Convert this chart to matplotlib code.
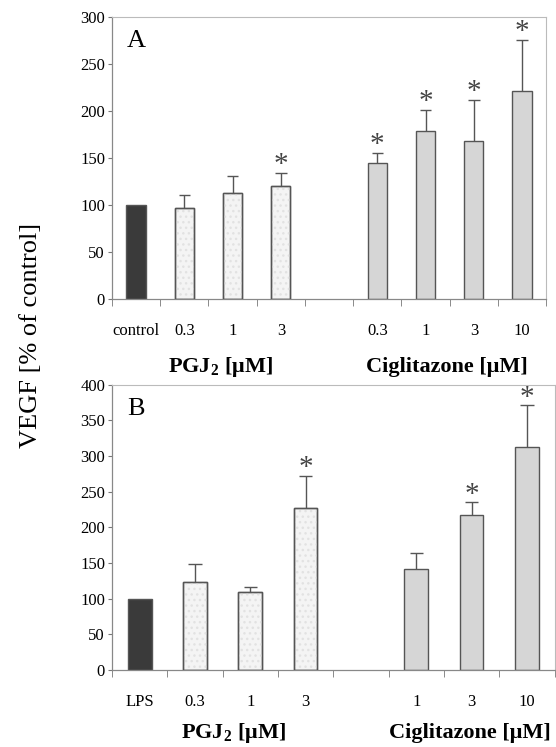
import matplotlib
matplotlib.use("Agg")
import matplotlib.pyplot as plt

plt.rcParams["font.family"] = "Liberation Serif"
plt.rcParams["mathtext.fontset"] = "custom"
plt.rcParams["mathtext.rm"] = "Liberation Serif"
plt.rcParams["mathtext.bf"] = "Liberation Serif:bold"

# Panel A
etiquetas_a = ["control", "0.3", "1", "3", "", "0.3", "1", "3", "10"]
valores_a = [100, 97, 113, 120, 0, 145, 179, 168, 221]
errores_a = [0, 14, 18, 14, 0, 10, 22, 44, 55]
grupos_a = ["ctrl", "pgj", "pgj", "pgj", "gap", "cig", "cig", "cig", "cig"]
asterisco_a = [False, False, False, True, False, True, True, True, True]

# Panel B
etiquetas_b = ["LPS", "0.3", "1", "3", "", "1", "3", "10"]
valores_b = [100, 124, 109, 227, 0, 141, 218, 312]
errores_b = [0, 24, 7, 45, 0, 23, 17, 59]
grupos_b = ["ctrl", "pgj", "pgj", "pgj", "gap", "cig", "cig", "cig"]
asterisco_b = [False, False, False, True, False, False, True, True]

colores = {"ctrl": "#3a3a3a", "pgj": "#f4f4f4", "cig": "#d6d6d6", "gap": "none"}
borde = "#555555"


def panel(ax, etiquetas, valores, errores, grupos, asteriscos, ymax, letra, ancho):
    x = list(range(len(etiquetas)))
    for xi, v, g in zip(x, valores, grupos):
        if g == "gap":
            continue
        ax.bar(xi, v, width=ancho, color=colores[g], edgecolor=borde, linewidth=1.0, zorder=2)
        if g == "pgj":
            # punteado suave
            ax.bar(xi, v, width=ancho, color="none", edgecolor="#e2e2e2", hatch="...",
                   linewidth=0, zorder=2)
            ax.bar(xi, v, width=ancho, color="none", edgecolor=borde, linewidth=1.0, zorder=3)
    for xi, v, e, s in zip(x, valores, errores, asteriscos):
        if e > 0:
            ax.vlines(xi, v, v + e, color=borde, lw=1.0, zorder=1)
            ax.hlines(v + e, xi - 0.12, xi + 0.12, color=borde, lw=1.0, zorder=1)
        if s:
            ax.text(xi, v + e - ymax * 0.018, "*", ha="center", va="bottom", fontsize=21,
                    color="#444444")
    ax.set_xlim(-0.5, len(etiquetas) - 0.5)
    ax.set_ylim(0, ymax)
    ax.set_yticks(range(0, ymax + 1, 50))
    ax.set_xticks(x)
    ax.set_xticklabels(etiquetas)
    ax.set_xticks([i - 0.5 for i in range(len(etiquetas) + 1)], minor=True)
    ax.tick_params(axis="x", which="major", length=0, pad=17, labelsize=12)
    ax.tick_params(axis="x", which="minor", length=5, direction="out", color="#777777")
    ax.tick_params(axis="y", length=3, direction="out", color="#777777", labelsize=12, pad=2)
    for lado in ["top", "right"]:
        ax.spines[lado].set_color("#bbbbbb")
        ax.spines[lado].set_linewidth(0.8)
    for lado in ["left", "bottom"]:
        ax.spines[lado].set_color("#888888")
        ax.spines[lado].set_linewidth(0.9)
    ax.text(0.035, 0.955, letra, transform=ax.transAxes, fontsize=19, va="top", ha="left")


fig = plt.figure(figsize=(5.56, 7.47), dpi=100)

ax_a = fig.add_axes([0.2014, 0.5997, 0.781, 0.3775])
panel(ax_a, etiquetas_a, valores_a, errores_a, grupos_a, asterisco_a, 300, "A", 0.4)

ax_b = fig.add_axes([0.2014, 0.103, 0.796, 0.382])
panel(ax_b, etiquetas_b, valores_b, errores_b, grupos_b, asterisco_b, 400, "B", 0.43)

# Etiquetas de grupo
fig.text(220 / 556, 1 - 367 / 747, r"PGJ$_\mathbf{2}$ [μM]", ha="center", va="center",
         fontsize=16, fontweight="bold")
fig.text(447 / 556, 1 - 367 / 747, "Ciglitazone [μM]", ha="center", va="center",
         fontsize=16, fontweight="bold")
fig.text(233 / 556, 1 - 733 / 747, r"PGJ$_\mathbf{2}$ [μM]", ha="center", va="center",
         fontsize=16, fontweight="bold")
fig.text(470 / 556, 1 - 733 / 747, "Ciglitazone [μM]", ha="center", va="center",
         fontsize=16, fontweight="bold")

fig.text(31 / 556, 1 - 335 / 747, "VEGF [% of control]", rotation=90, ha="center",
         va="center", fontsize=19)

fig.savefig("out.png", dpi=100)
